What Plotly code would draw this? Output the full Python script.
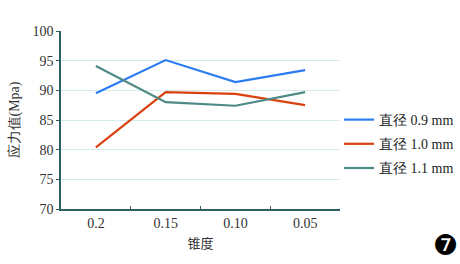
import plotly.graph_objects as go

categories = ["0.2", "0.15", "0.10", "0.05"]
series_names = ["直径 0.9 mm", "直径 1.0 mm", "直径 1.1 mm"]
d09 = [89.5, 95.1, 91.4, 93.4]
d10 = [80.4, 89.7, 89.4, 87.5]
d11 = [94.1, 88.0, 87.4, 89.7]
colors = ["#2b7cf2", "#d9410f", "#4f8a86"]

fig = go.Figure()
for i, (name, vals, c) in enumerate(zip(series_names, [d09, d10, d11], colors)):
    fig.add_trace(go.Scatter(x=categories, y=vals, mode="lines", name=name,
                             legendgroup=f"g{i}",
                             line=dict(color=c, width=2.2)))

serif = "Liberation Serif"
fig.update_layout(
    width=460, height=264,
    margin=dict(l=61, r=120, t=31, b=55, autoexpand=False),
    paper_bgcolor="white", plot_bgcolor="white",
    font=dict(family=serif, size=14, color="#222"),
    showlegend=True,
    legend=dict(x=(339-61)/279, y=(209-104)/178,
                xanchor="left", yanchor="top",
                font=dict(family=serif, size=14, color="#222"),
                bgcolor="rgba(0,0,0,0)", itemwidth=30, tracegroupgap=3),
    xaxis=dict(type="category", range=[-0.5, 3.5], showgrid=False,
               showline=True, linecolor="#2b5f63", linewidth=1.5,
               ticks="inside", tickson="boundaries", ticklen=3, tickcolor="#2b5f63",
               tickfont=dict(family=serif, size=14, color="#333"),
               title=dict(text="锥度", font=dict(family="Noto Sans CJK SC", size=13, color="#333"), standoff=9)),
    yaxis=dict(range=[70, 100], dtick=5, showgrid=True, gridcolor="#d6ecec", gridwidth=1,
               showline=True, linecolor="#2b5f63", linewidth=1.5, zeroline=False,
               ticks="outside", ticklen=3, tickcolor="#2b5f63",
               tickfont=dict(family=serif, size=14, color="#333"),
               title=dict(text="应力值(Mpa)", font=dict(family=serif, size=14, color="#333"), standoff=10)),
)
fig.add_annotation(xref="paper", yref="paper", x=(460-61)/279, y=(209-264)/178,
                   text="❼", showarrow=False,
                   font=dict(family="DejaVu Sans", size=28, color="black"))
fig.write_html("out.html")
